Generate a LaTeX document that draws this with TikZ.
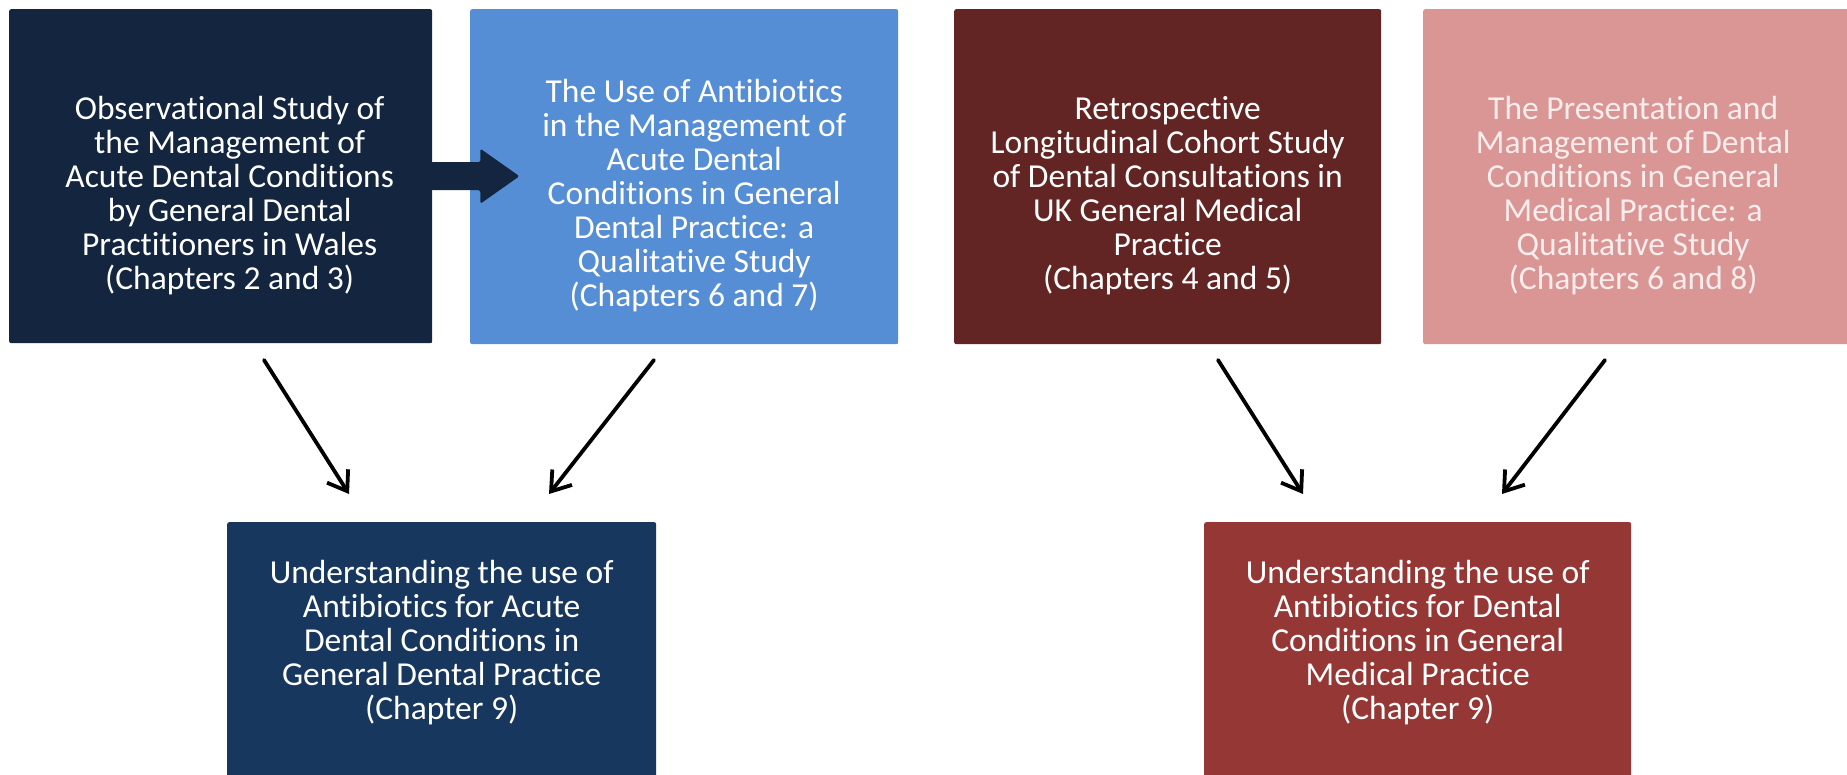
\documentclass[tikz,border=0pt]{standalone}
\usepackage{fontspec}
\setmainfont{Carlito}[Ligatures=CommonOff]
\usetikzlibrary{arrows.meta,calc}
\definecolor{navyA}{HTML}{13253F}
\definecolor{blueB}{HTML}{558ED5}
\definecolor{maroonC}{HTML}{632523}
\definecolor{pinkD}{HTML}{D99694}
\definecolor{navyE}{HTML}{17375E}
\definecolor{redF}{HTML}{953735}
\definecolor{paletxt}{HTML}{FAEDED}
\begin{document}
\begin{tikzpicture}[x=1pt,y=-1pt,
  boxstyle/.style={rectangle, rounded corners=2pt, inner sep=0pt, anchor=north west},
  txt/.style={text=white, align=center, font=\fontsize{33.5}{34}\selectfont, inner sep=0pt},
  conn/.style={line width=3.8pt, line cap=round, -{Straight Barb[length=18pt,width=25pt,line join=miter]}}]
\useasboundingbox (0,0) rectangle (1847,775);
\fill[white] (0,0) rectangle (1847,775);
% boxes
\node[boxstyle, fill=navyA, minimum width=423pt, minimum height=334pt] (b1) at (9,9) {};
\node[boxstyle, fill=blueB, minimum width=428pt, minimum height=335pt] (b2) at (470,9) {};
\node[boxstyle, fill=maroonC, minimum width=427pt, minimum height=335pt] (b3) at (954,9) {};
\node[boxstyle, fill=pinkD, minimum width=430pt, minimum height=335pt] (b4) at (1423,9) {};
\node[boxstyle, fill=navyE, minimum width=429pt, minimum height=270pt] (b5) at (227,522) {};
\node[boxstyle, fill=redF, minimum width=427pt, minimum height=270pt] (b6) at (1204,522) {};
% texts
\node[txt] (t1) at ($(b1.north)+(9,187)$) {Observational Study of\\the Management of\\Acute Dental Conditions\\by General Dental\\Practitioners in Wales\\(Chapters 2 and 3)};
\node[txt] (t2) at ($(b2.north)+(10,187)$) {The Use of Antibiotics\\in the Management of\\Acute Dental\\Conditions in General\\Dental Practice: a\\Qualitative Study\\(Chapters 6 and 7)};
\node[txt] (t3) at ($(b3.north)+(0,187)$) {Retrospective\\Longitudinal Cohort Study\\of Dental Consultations in\\UK General Medical\\Practice\\(Chapters 4 and 5)};
\node[txt, text=paletxt] (t4) at ($(b4.north)+(-5,187)$) {The Presentation and\\Management of Dental\\Conditions in General\\Medical Practice: a\\Qualitative Study\\(Chapters 6 and 8)};
\node[txt] (t5) at ($(b5.north)+(0,121)$) {Understanding the use of\\Antibiotics for Acute\\Dental Conditions in\\General Dental Practice\\(Chapter 9)};
\node[txt] (t6) at ($(b6.north)+(0,121)$) {Understanding the use of\\Antibiotics for Dental\\Conditions in General\\Medical Practice\\(Chapter 9)};
% block arrow b1 -> b2
\fill[navyA, rounded corners=1.5pt] (b1.east) ++(-2,-14) -- ++(50,0) -- ++(0,-13.5) -- ++(39,27.5) -- ++(-39,27.5) -- ++(0,-13.5) -- ++(-50,0) -- cycle;
% connectors
\coordinate (a1s) at (264,360); \coordinate (a1e) at (349,494);
\coordinate (a2s) at (654,360); \coordinate (a2e) at (549,494);
\coordinate (a3s) at (1218,360); \coordinate (a3e) at (1303,494);
\coordinate (a4s) at (1605,360); \coordinate (a4e) at (1502,494);
\draw[conn] (a1s) -- (a1e);
\draw[conn] (a2s) -- (a2e);
\draw[conn] (a3s) -- (a3e);
\draw[conn] (a4s) -- (a4e);
\end{tikzpicture}
\end{document}
